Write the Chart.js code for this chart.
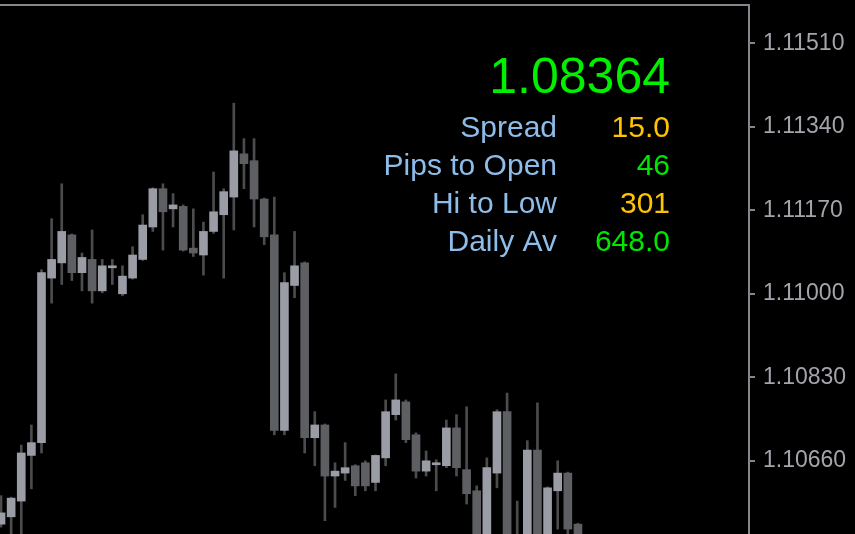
<!DOCTYPE html>
<html>
<head>
<meta charset="utf-8">
<script src="https://cdn.jsdelivr.net/npm/chart.js@4.4.1/dist/chart.umd.min.js"></script>
<style>
html,body{margin:0;padding:0;background:#000;}
#wrap{width:855px;height:534px;position:relative;}
</style>
</head>
<body>
<div id="wrap"><canvas id="c" width="855" height="534"></canvas></div>
<script>
// bar slots (candle index, left to right)
const slots = [0,1,2,3,4,5,6,7,8,9,10,11,12,13,14,15,16,17,18,19,20,21,22,23,24,25,26,27,28,29,30,31,32,33,34,35,36,37,38,39,40,41,42,43,44,45,46,47,48,49,50,51,52,53,54,55,56,57];
const opens  = [1.10531,1.10546,1.10578,1.10671,1.10697,1.11032,1.11063,1.11120,1.11043,1.11070,1.11006,1.11053,1.11000,1.11032,1.11070,1.11136,1.11214,1.11173,1.11178,1.11093,1.11079,1.11127,1.11161,1.11197,1.11285,1.11271,1.11193,1.11120,1.10722,1.11017,1.11063,1.10707,1.10733,1.10629,1.10635,1.10650,1.10656,1.10616,1.10666,1.10754,1.10780,1.10713,1.10639,1.10652,1.10650,1.10727,1.10642,1.10599,1.10471,1.10635,1.10760,1.10501,1.10491,1.10682,1.10491,1.10599,1.10635,1.10531];
const highs  = [1.10589,1.10586,1.10692,1.10733,1.11049,1.11153,1.11224,1.11122,1.11083,1.11130,1.11070,1.11070,1.11057,1.11096,1.11161,1.11216,1.11224,1.11204,1.11181,1.11173,1.11146,1.11248,1.11214,1.11388,1.11316,1.11316,1.11195,1.11197,1.11043,1.11127,1.11065,1.10760,1.10735,1.10656,1.10697,1.10652,1.10660,1.10672,1.10784,1.10837,1.10784,1.10717,1.10680,1.10662,1.10743,1.10754,1.10770,1.10609,1.10666,1.10764,1.10798,1.10578,1.10701,1.10778,1.10607,1.10660,1.10637,1.10533];
const lows   = [1.10525,1.10491,1.10481,1.10603,1.10676,1.10981,1.11019,1.11027,1.11006,1.10981,1.11002,1.11019,1.10996,1.11030,1.11068,1.11127,1.11089,1.11136,1.11087,1.11076,1.11038,1.11123,1.11032,1.11130,1.11214,1.11136,1.11100,1.10713,1.10713,1.10992,1.10676,1.10650,1.10538,1.10565,1.10620,1.10589,1.10599,1.10599,1.10650,1.10743,1.10697,1.10625,1.10629,1.10599,1.10646,1.10629,1.10572,1.10462,1.10452,1.10605,1.10471,1.10462,1.10471,1.10462,1.10481,1.10521,1.10501,1.10481];
const closes = [1.10554,1.10584,1.10676,1.10697,1.11043,1.11070,1.11127,1.11043,1.11074,1.11006,1.11057,1.11057,1.11036,1.11079,1.11140,1.11214,1.11167,1.11181,1.11089,1.11083,1.11127,1.11167,1.11208,1.11291,1.11265,1.11193,1.11116,1.10722,1.11023,1.11057,1.10707,1.10733,1.10629,1.10639,1.10646,1.10609,1.10609,1.10671,1.10760,1.10784,1.10703,1.10639,1.10660,1.10656,1.10727,1.10646,1.10593,1.10481,1.10646,1.10760,1.10491,1.10481,1.10682,1.10481,1.10605,1.10635,1.10521,1.10491];
// price axis tick labels
const priceTicks = [1.11510, 1.11340, 1.11170, 1.11000, 1.10830, 1.10660];
// info panel texts
const headlinePrice = '1.08364';
const infoLabels = ['Spread', 'Pips to Open', 'Hi to Low', 'Daily Av'];
const infoValues = ['15.0', '46', '301', '648.0'];
const infoValueColors = ['#ffc400', '#00e600', '#ffc400', '#00e600'];

const BULL = '#9a9ca6', BEAR = '#5e5f62', WICK = '#4c4c4f', FRAME = '#85858c';

const bodyData = slots.map((s, i) => ({x: s, y: [Math.min(opens[i], closes[i]), Math.max(opens[i], closes[i])]}));
const wickData = slots.map((s, i) => ({x: s, y: [lows[i], highs[i]]}));
const bodyColors = slots.map((s, i) => closes[i] >= opens[i] ? BULL : BEAR);

const infoPlugin = {
  id: 'info',
  afterDraw(chart) {
    const ctx = chart.ctx;
    ctx.save();
    ctx.textAlign = 'right';
    ctx.textBaseline = 'alphabetic';
    ctx.fillStyle = '#00f000';
    ctx.font = '50px "Liberation Sans", Arial, sans-serif';
    ctx.fillText(headlinePrice, 670, 93);
    ctx.font = '30px "Liberation Sans", Arial, sans-serif';
    infoLabels.forEach((t, i) => {
      const y = 137 + i * 38;
      ctx.fillStyle = '#8fbdea';
      ctx.fillText(t, 557, y);
      ctx.fillStyle = infoValueColors[i];
      ctx.fillText(infoValues[i], 670, y);
    });
    ctx.restore();
  }
};

new Chart(document.getElementById('c'), {
  type: 'bar',
  data: {
    datasets: [
      {label: 'body', data: bodyData, backgroundColor: bodyColors, barThickness: 8, grouped: false, order: 0, borderWidth: 0, minBarLength: 2},
      {label: 'wick', data: wickData, backgroundColor: WICK, barThickness: 2, grouped: false, order: 1, borderWidth: 0}
    ]
  },
  options: {
    responsive: false,
    animation: false,
    events: [],
    layout: {padding: 0},
    plugins: {legend: {display: false}, tooltip: {enabled: false}},
    scales: {
      x: {
        type: 'linear',
        position: 'top',
        min: -0.1,
        max: 73.9,
        offset: false,
        ticks: {display: false},
        grid: {display: false, drawTicks: false},
        border: {display: true, color: FRAME, width: 2},
        afterFit(s) { s.height = 5; s.paddingLeft = 0; s.paddingRight = 0; }
      },
      y: {
        type: 'linear',
        position: 'right',
        min: 1.10511,
        max: 1.11588,
        afterBuildTicks(s) { s.ticks = priceTicks.map(v => ({value: v})); },
        ticks: {
          color: '#a4a4ac',
          font: {family: '"Liberation Sans", Arial, sans-serif', size: 23},
          padding: 8,
          callback: v => v.toFixed(5)
        },
        grid: {display: true, drawOnChartArea: false, drawTicks: true, tickLength: 6, color: FRAME, lineWidth: 2},
        border: {display: true, color: FRAME, width: 2},
        afterFit(s) { s.width = 106; s.paddingTop = 0; s.paddingBottom = 0; }
      }
    }
  },
  plugins: [infoPlugin]
});
</script>
</body>
</html>
